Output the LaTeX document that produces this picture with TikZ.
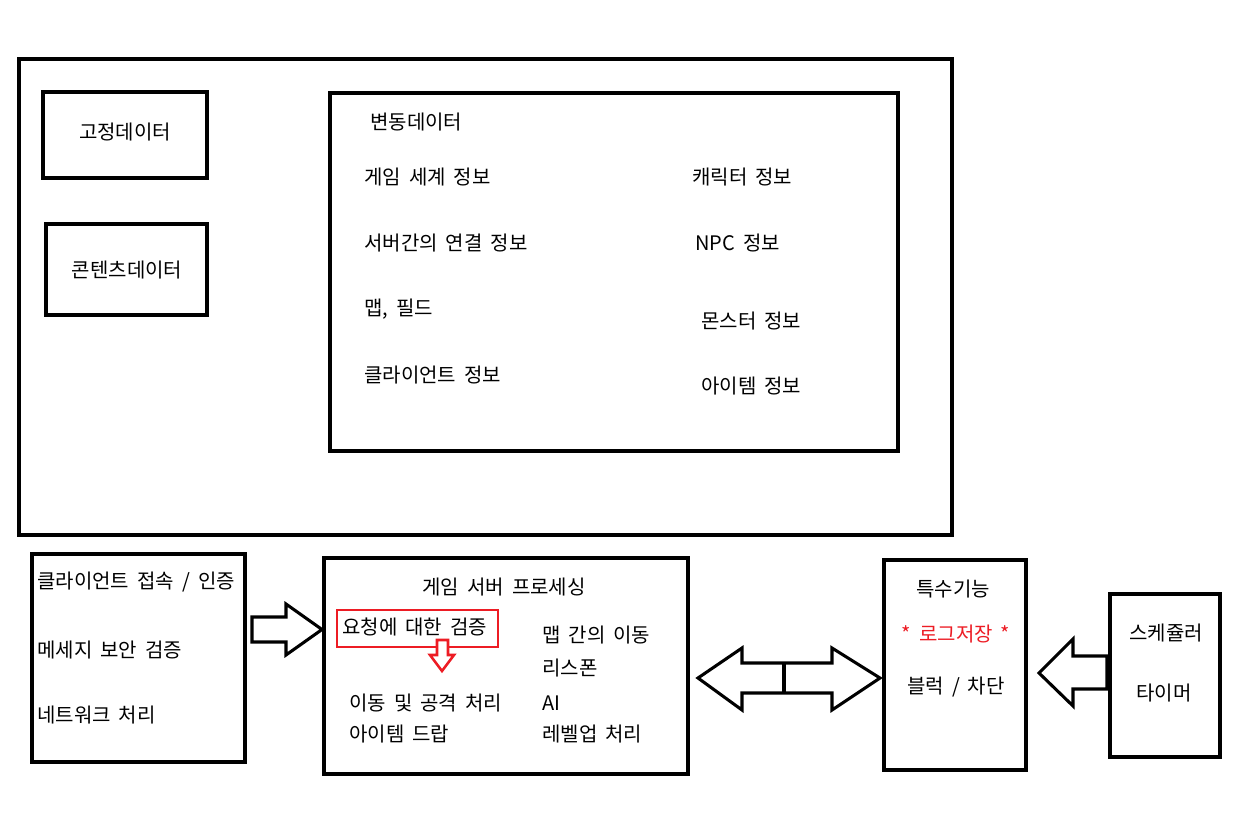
\documentclass[tikz,border=0pt]{standalone}
\usepackage{fontspec}
\setmainfont{Noto Sans CJK KR}[WordSpace=1.8]
\definecolor{pred}{RGB}{237,28,36}
\begin{document}
\begin{tikzpicture}[x=0.75pt,y=-0.75pt,
  box/.style={draw=black, line width=2.8pt, rectangle, inner sep=0pt},
  redbox/.style={draw=pred, line width=2.2pt, rectangle, inner sep=0pt},
  txt/.style={font=\fontsize{15pt}{18pt}\selectfont, inner sep=0pt},
  ltxt/.style={txt, anchor=west},
  blockarrow/.style={draw=black, line width=2.3pt, line join=miter, fill=white},
  redarrow/.style={draw=pred, line width=1.9pt, line join=miter, fill=white}]
\useasboundingbox[fill=white] (0,0) rectangle (1242,831);

% boxes
\node[box, minimum width=933*0.75pt, minimum height=476*0.75pt] (outer) at (485.5,297) {};
\node[box, minimum width=164*0.75pt, minimum height=86*0.75pt] (fixed) at (125,135) {};
\node[box, minimum width=161*0.75pt, minimum height=91*0.75pt] (content) at (126.5,269.5) {};
\node[box, minimum width=568*0.75pt, minimum height=358*0.75pt] (var) at (614,272) {};
\node[box, minimum width=213*0.75pt, minimum height=208*0.75pt] (client) at (138.5,658) {};
\node[box, minimum width=364*0.75pt, minimum height=216*0.75pt] (game) at (506,666) {};
\node[box, minimum width=142*0.75pt, minimum height=210*0.75pt] (special) at (955,665) {};
\node[box, minimum width=110*0.75pt, minimum height=163*0.75pt] (sched) at (1165,675.5) {};
\node[redbox, minimum width=161*0.75pt, minimum height=37*0.75pt] (verify) at (417.5,628.5) {};

% texts in top area
\node[txt] (tfixed) at (125,132) {고정데이터};
\node[txt] (tcontent) at (127,270) {콘텐츠데이터};
\node[ltxt] (tvar) at (370,122) {변동데이터};
\node[ltxt] (t1) at (364,177) {게임 세계 정보};
\node[ltxt] (t2) at (364,243) {서버간의 연결 정보};
\node[ltxt] (t3) at (364,309) {맵, 필드};
\node[ltxt] (t4) at (364,375) {클라이언트 정보};
\node[ltxt] (t5) at (692,177) {캐릭터 정보};
\node[ltxt] (t6) at (695,243) {NPC 정보};
\node[ltxt] (t7) at (701,321) {몬스터 정보};
\node[ltxt] (t8) at (701,386) {아이템 정보};

% client box texts
\node[ltxt] (c1) at (37,582) {클라이언트 접속 / 인증};
\node[ltxt] (c2) at (37,650) {메세지 보안 검증};
\node[ltxt] (c3) at (37,715) {네트워크 처리};

% game server texts
\node[txt] (gtitle) at (504,587) {게임 서버 프로세싱};
\node[ltxt] (g0) at (342,627) {요청에 대한 검증};
\node[ltxt] (g1) at (349,703) {이동 및 공격 처리};
\node[ltxt] (g2) at (349,734) {아이템 드랍};
\node[ltxt] (g3) at (542,635) {맵 간의 이동};
\node[ltxt] (g4) at (542,668) {리스폰};
\node[ltxt] (g5) at (542,703) {AI};
\node[ltxt] (g6) at (542,734) {레벨업 처리};

% special function texts
\node[txt] (s1) at (953,589) {특수기능};
\node[txt, text=pred] (s2) at (956,634) {* 로그저장 *};
\node[txt] (s3) at (956,687) {블럭 / 차단};

% scheduler texts
\node[txt] (h1) at (1166,633) {스케쥴러};
\node[txt] (h2) at (1164,693) {타이머};

% block arrows
\draw[blockarrow] (252,617) -- (286,617) -- (286,604) -- (322,629.5) -- (286,655) -- (286,642) -- (252,642) -- cycle;
\draw[blockarrow] (698,678) -- (742,648) -- (742,663) -- (832,663) -- (832,648) -- (880,678)
  -- (832,710) -- (832,693) -- (742,693) -- (742,710) -- cycle;
\draw[black, line width=2.3pt] (784,663) -- (784,693);
\draw[blockarrow] (1039,673) -- (1073,639) -- (1073,656) -- (1107,656) -- (1107,689) -- (1073,689) -- (1073,706) -- cycle;
\draw[redarrow] (437,640) -- (448,640) -- (448,655) -- (454,655) -- (442,671) -- (430,655) -- (437,655) -- cycle;
\end{tikzpicture}
\end{document}
